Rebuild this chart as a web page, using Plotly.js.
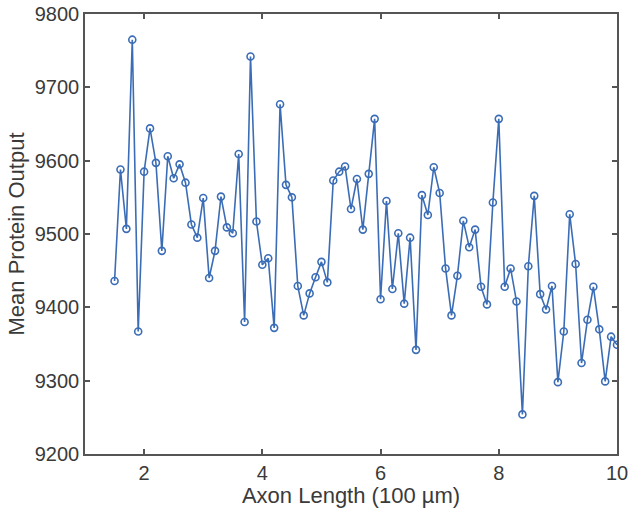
<!DOCTYPE html>
<html>
<head>
<meta charset="utf-8">
<script src="https://cdn.plot.ly/plotly-3.0.1.min.js"></script>
<style>
  html, body { margin: 0; padding: 0; background: #fff; }
  #chart { width: 630px; height: 508px; }
</style>
</head>
<body>
<div id="chart"></div>
<script>
// axon length in units of 100 um
const axonLength = [
  1.5, 1.6, 1.7, 1.8, 1.9,
  2.0, 2.1, 2.2, 2.3, 2.4, 2.5, 2.6, 2.7, 2.8, 2.9,
  3.0, 3.1, 3.2, 3.3, 3.4, 3.5, 3.6, 3.7, 3.8, 3.9,
  4.0, 4.1, 4.2, 4.3, 4.4, 4.5, 4.6, 4.7, 4.8, 4.9,
  5.0, 5.1, 5.2, 5.3, 5.4, 5.5, 5.6, 5.7, 5.8, 5.9,
  6.0, 6.1, 6.2, 6.3, 6.4, 6.5, 6.6, 6.7, 6.8, 6.9,
  7.0, 7.1, 7.2, 7.3, 7.4, 7.5, 7.6, 7.7, 7.8, 7.9,
  8.0, 8.1, 8.2, 8.3, 8.4, 8.5, 8.6, 8.7, 8.8, 8.9,
  9.0, 9.1, 9.2, 9.3, 9.4, 9.5, 9.6, 9.7, 9.8, 9.9,
  10.0
];

const meanOutput = [
  9436, 9588, 9507, 9765, 9367,
  9585, 9644, 9597, 9477, 9606, 9576, 9595, 9570, 9513, 9495,
  9549, 9440, 9477, 9551, 9509, 9501, 9609, 9380, 9742, 9517,
  9458, 9467, 9372, 9677, 9567, 9550, 9429, 9389, 9419, 9441,
  9462, 9434, 9573, 9585, 9592, 9534, 9575, 9506, 9582, 9657,
  9411, 9545, 9425, 9501, 9405, 9495, 9342, 9553, 9526, 9591,
  9556, 9453, 9389, 9443, 9518, 9482, 9506, 9428, 9404, 9543,
  9657, 9428, 9453, 9408, 9254, 9456, 9552, 9418, 9397, 9429,
  9298, 9367, 9527, 9459, 9324, 9383, 9428, 9370, 9299, 9360,
  9349
];

const xTicks = [2, 4, 6, 8, 10];
const yTicks = [9200, 9300, 9400, 9500, 9600, 9700, 9800];

const blue = "#3b6db6";
const axisColor = "#555555";
const textColor = "#3a3a3a";
const fontFam = "'Liberation Sans', Arial, Helvetica, sans-serif";

function boxAxis(extra){
  return Object.assign({
    showline: true,
    linecolor: axisColor,
    linewidth: 1.5,
    mirror: "ticks",
    ticks: "inside",
    ticklen: 5,
    tickwidth: 1.5,
    tickcolor: axisColor,
    showgrid: false,
    zeroline: false,
    tickformat: "d",
    tickfont: { family: fontFam, size: 20, color: textColor }
  }, extra);
}

Plotly.newPlot("chart", [
  {
    x: axonLength,
    y: meanOutput,
    type: "scatter",
    mode: "lines+markers",
    line: { color: blue, width: 1.6 },
    marker: { symbol: "circle-open", size: 7, color: blue, line: { width: 1.6, color: blue } },
    hoverinfo: "x+y"
  }
], {
  width: 630,
  height: 508,
  margin: { l: 85, r: 13, t: 14, b: 54 },
  paper_bgcolor: "#fff",
  plot_bgcolor: "#fff",
  showlegend: false,
  font: { family: fontFam, color: textColor },
  xaxis: boxAxis({
    range: [1, 10],
    tickvals: xTicks,
    title: { text: "Axon Length (100 µm)", font: { family: fontFam, size: 22, color: textColor }, standoff: 3 }
  }),
  yaxis: boxAxis({
    range: [9200, 9800],
    tickvals: yTicks,
    title: { text: "Mean Protein Output", font: { family: fontFam, size: 22, color: textColor }, standoff: 4 }
  })
}, { displayModeBar: false, responsive: false });
</script>
</body>
</html>
